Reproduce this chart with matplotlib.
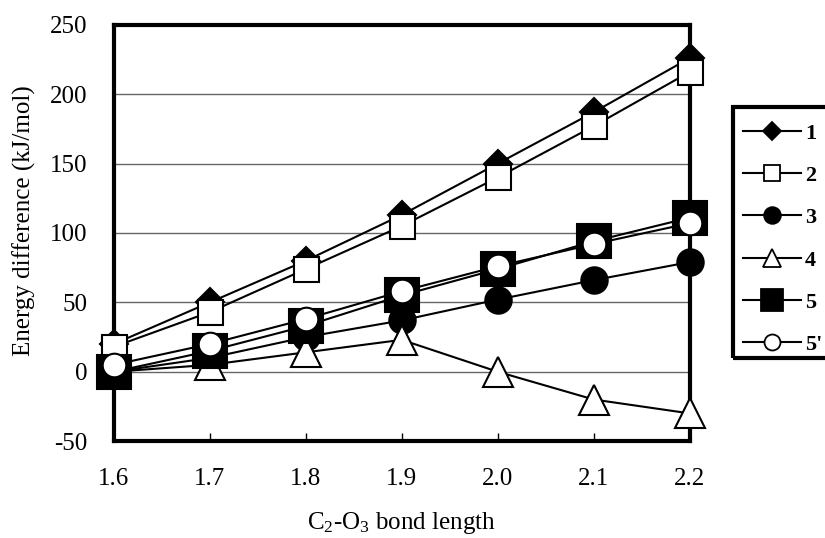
import matplotlib
matplotlib.use("Agg")
import matplotlib.pyplot as plt
from matplotlib.lines import Line2D
from matplotlib.patches import Rectangle

plt.rcParams['font.family'] = ['Liberation Serif', 'DejaVu Serif']
plt.rcParams['axes.unicode_minus'] = False
plt.rcParams['mathtext.fontset'] = 'custom'
plt.rcParams['mathtext.rm'] = 'Liberation Serif'

# bond length (angstrom)
bond_length = [1.6, 1.7, 1.8, 1.9, 2.0, 2.1, 2.2]

# energy differences (kJ/mol)
e1 = [20, 50, 80, 113, 150, 187, 226]
e2 = [18, 43, 74, 105, 140, 177, 216]
e3 = [0, 10, 25, 37, 52, 66, 79]
e4 = [0, 5, 14, 23, 0, -20, -30]
e5 = [0, 15, 33, 55, 74, 94, 111]
e5p = [5, 20, 38, 58, 76, 92, 107]

series_labels = ['1', '2', '3', '4', '5', "5'"]

W, H = 825, 538
fig = plt.figure(figsize=(W / 100, H / 100), dpi=100)
ax = fig.add_axes([0.138, 0.180, 0.698, 0.774])

# marker, size on plot, size in legend, face colour
styles = [
    ('D', 14, 9, 'black'),
    ('s', 18, 11, 'white'),
    ('o', 19, 12, 'black'),
    ('^', 21, 13, 'white'),
    ('s', 24, 16, 'black'),
    ('o', 17, 11.5, 'white'),
]

handles = []
for vals, lab, (mk, ms, lms, fc) in zip([e1, e2, e3, e4, e5, e5p], series_labels, styles):
    ax.plot(bond_length, vals, color='black', lw=1.5, marker=mk, markersize=ms,
            mfc=fc, mec='black', mew=1.5, clip_on=False, zorder=3)
    handles.append(Line2D([], [], color='black', lw=1.5, marker=mk, markersize=lms,
                          mfc=fc, mec='black', mew=1.3, label=lab))

ax.set_xlim(1.6, 2.2)
ax.set_ylim(-50, 250)
ax.set_xticks(bond_length)
ax.set_xticklabels([f"{v:.1f}" for v in bond_length])
ax.set_yticks(range(-50, 251, 50))
ax.yaxis.grid(True, color='#666666', lw=1)
ax.set_axisbelow(True)

for s in ax.spines.values():
    s.set_linewidth(3)
ax.tick_params(axis='both', labelsize=18, direction='in', length=6, width=1)
ax.tick_params(axis='y', length=0, pad=19)
ax.tick_params(axis='x', pad=19)

ax.set_xlabel('C$\\mathregular{_2}$-O$\\mathregular{_3}$ bond length', fontsize=18)
ax.xaxis.set_label_coords(0.5, -0.165)
ax.set_ylabel('Energy difference (kJ/mol)', fontsize=18)
ax.yaxis.set_label_coords(-0.135, 0.53)

# legend box runs off the right edge of the figure, as in the original
box = Rectangle((733 / W, 1 - 358 / H), 120 / W, 251 / H, transform=fig.transFigure,
                fill=False, edgecolor='black', lw=3, clip_on=False)
fig.patches.append(box)

leg = fig.legend(handles=handles, loc='upper left',
                 bbox_to_anchor=(733 / W, 1 - 113 / H),
                 frameon=False,
                 prop={'size': 16, 'weight': 'bold'},
                 handlelength=2.6, handletextpad=0.2, labelspacing=0.98,
                 borderpad=0.45, borderaxespad=0)

fig.savefig('out.png', dpi=100)
